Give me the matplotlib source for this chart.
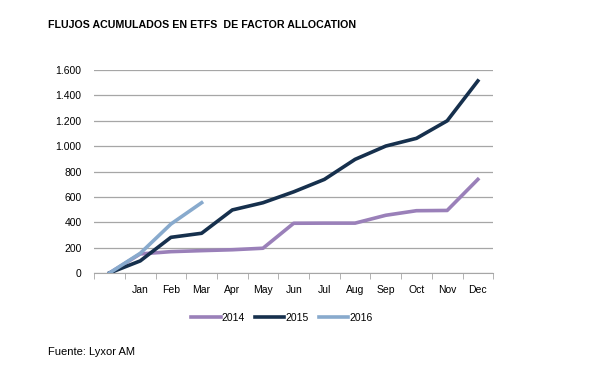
import matplotlib.pyplot as plt
import matplotlib.ticker as mticker

plt.rcParams['font.family'] = ['Liberation Sans', 'DejaVu Sans']

months = ['', 'Jan', 'Feb', 'Mar', 'Apr', 'May', 'Jun', 'Jul', 'Aug', 'Sep', 'Oct', 'Nov', 'Dec']
flows_2014 = [0, 150, 168, 176, 183, 195, 392, 393, 393, 455, 491, 493, 738]
flows_2015 = [0, 95, 281, 313, 497, 554, 640, 738, 896, 1001, 1062, 1200, 1515]
flows_2016 = [0, 155, 386, 554]

fig = plt.figure(figsize=(6.0, 3.77), dpi=100)
ax = fig.add_axes([0.157, 0.276, 0.665, 0.538])

x = list(range(len(months)))
ax.plot(x, flows_2014, color='#9a80b9', linewidth=2.6, label='2014', zorder=3)
ax.plot(x[:len(flows_2015)], flows_2015, color='#16304d', linewidth=2.6, label='2015', zorder=3)
ax.plot(x[:len(flows_2016)], flows_2016, color='#88aacd', linewidth=2.6, label='2016', zorder=3)

ax.set_xlim(-0.5, len(months) - 0.5)
ax.set_ylim(0, 1600)
ax.yaxis.set_major_locator(mticker.MultipleLocator(200))
ax.yaxis.set_major_formatter(mticker.FuncFormatter(lambda v, p: f'{int(v):,}'.replace(',', '.')))
ax.grid(axis='y', color='#a6a6a6', linewidth=0.9, zorder=0)

ax.set_xticks(x)
ax.set_xticklabels(months)
ax.set_xticks([i - 0.5 for i in range(len(months) + 1)], minor=True)
ax.tick_params(axis='x', which='major', length=0, pad=9, labelsize=7.5)
ax.tick_params(axis='x', which='minor', length=4, color='#a6a6a6', direction='out')
ax.tick_params(axis='y', length=0, pad=9, labelsize=7.5)

for side in ['top', 'right', 'left']:
    ax.spines[side].set_visible(False)
ax.spines['bottom'].set_color('#a6a6a6')

fig.text(0.08, 0.935, 'FLUJOS ACUMULADOS EN ETFS  DE FACTOR ALLOCATION',
         fontsize=7.7, fontweight='bold', va='center')
fig.text(0.08, 0.066, 'Fuente: Lyxor AM', fontsize=8, va='center')

fig.legend(loc='center', bbox_to_anchor=(0.47, 0.157), ncol=3, frameon=False,
           fontsize=7.5, handlelength=2.8, handletextpad=0.1, columnspacing=1.0)

fig.savefig('out.png', dpi=100)
